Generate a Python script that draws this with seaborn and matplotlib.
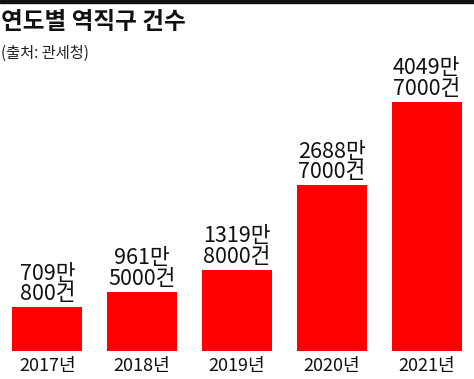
import matplotlib
matplotlib.use("Agg")
import matplotlib.pyplot as plt
import pandas as pd
import seaborn as sns

# 연도별 역직구 건수 (source: 관세청)
YEARS = ["2017년", "2018년", "2019년", "2020년", "2021년"]
COUNTS = [7090800, 9615000, 13198000, 26887000, 40497000]
LABELS = ["709만\n800건", "961만\n5000건", "1319만\n8000건", "2688만\n7000건", "4049만\n7000건"]

TITLE = "연도별 역직구 건수"
SUBTITLE = "(출처: 관세청)"

sns.set_theme(style="white")
plt.rcParams["font.family"] = ["Noto Sans CJK KR", "DejaVu Sans"]

df = pd.DataFrame({"year": YEARS, "count": COUNTS})

fig = plt.figure(figsize=(4.74, 3.79), dpi=100)
ax = fig.add_axes([0, 28 / 379, 1, 277 / 379])

sns.barplot(data=df, x="year", y="count", color="#ff0000", saturation=1,
            width=0.74, edgecolor="none", ax=ax)

ax.set_xlim(-0.5, 4.5)
ax.set_ylim(0, 45_000_000)
ax.set_xlabel("")
ax.set_ylabel("")
ax.set_yticks([])
ax.tick_params(axis="x", length=0, pad=4, labelsize=13, colors="#111111")
for s in ax.spines.values():
    s.set_visible(False)

# two-line value labels above each bar
for i, (v, lab) in enumerate(zip(COUNTS, LABELS)):
    ax.annotate(lab, xy=(i, v), xytext=(0, 1.5), textcoords="offset points",
                ha="center", va="bottom", fontsize=15.5, linespacing=0.92,
                color="#111111")

# top black rule
fig.patches.append(plt.Rectangle((0, 1 - 3 / 379), 1, 3 / 379,
                                 transform=fig.transFigure, color="#111111"))

fig.text(0.002, 1 - 10 / 379, TITLE, fontsize=17, fontweight="heavy",
         ha="left", va="top", color="#111111")
fig.text(0.002, 1 - 45 / 379, SUBTITLE, fontsize=11,
         ha="left", va="top", color="#222222")

fig.savefig("out.png", dpi=100)
